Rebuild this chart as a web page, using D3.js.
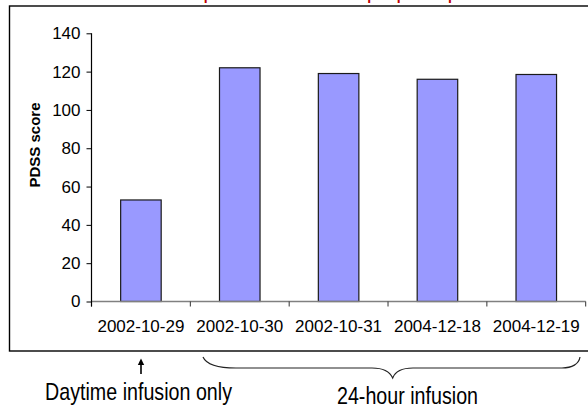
<!DOCTYPE html>
<html>
<head>
<meta charset="utf-8">
<script src="https://cdn.jsdelivr.net/npm/d3@7"></script>
<style>
  html, body { margin: 0; padding: 0; background: #fff; }
  svg { display: block; }
</style>
</head>
<body>
<div id="chart"></div>
<script>
// PDSS score per assessment date
const dates = ["2002-10-29", "2002-10-30", "2002-10-31", "2004-12-18", "2004-12-19"];
const pdssScores = [53, 122, 119, 116, 118.5];
const yTickValues = [0, 20, 40, 60, 80, 100, 120, 140];
const chartTitle = "Sleep score before and after pump startup";
const yAxisTitle = "PDSS score";
const noteDaytime = "Daytime infusion only";
const noteAllDay = "24-hour infusion";

const W = 588, H = 410;
const svg = d3.select("#chart").append("svg")
  .attr("width", W).attr("height", H);

// chart frame
svg.append("rect")
  .attr("x", 9.5).attr("y", 6).attr("width", 620).attr("height", 345)
  .attr("fill", "#fff").attr("stroke", "#000").attr("stroke-width", 1.4);

// title, sitting at the very top edge of the page
svg.append("text")
  .attr("x", 175).attr("y", 0)
  .attr("font-family", "Arial, 'Liberation Sans', sans-serif")
  .attr("font-weight", "bold").attr("font-size", 14)
  .attr("fill", "#C00000")
  .text(chartTitle);

const x = d3.scaleBand().domain(dates).range([91.5, 585.7]).padding(0);
const y = d3.scaleLinear().domain([0, 140]).range([301.5, 33.3]);
const barW = x.bandwidth() * 0.41;

// bars
svg.append("g").selectAll("rect")
  .data(dates.map((d, i) => ({ date: d, v: pdssScores[i] })))
  .join("rect")
  .attr("x", d => x(d.date) + (x.bandwidth() - barW) / 2)
  .attr("y", d => y(d.v))
  .attr("width", barW)
  .attr("height", d => y(0) - y(d.v))
  .attr("fill", "#9999FF")
  .attr("stroke", "#1a1a1a")
  .attr("stroke-width", 1.2);

// x axis: gray baseline with ticks at category boundaries
const xAxisG = svg.append("g");
xAxisG.append("line")
  .attr("x1", x.range()[0]).attr("x2", x.range()[1])
  .attr("y1", y(0)).attr("y2", y(0))
  .attr("stroke", "#808080").attr("stroke-width", 1.5);
const boundaries = dates.map(d => x(d)).concat([x(dates[dates.length - 1]) + x.bandwidth()]);
xAxisG.selectAll("line.tick").data(boundaries).join("line")
  .attr("class", "tick")
  .attr("x1", d => d).attr("x2", d => d)
  .attr("y1", y(0)).attr("y2", y(0) + 5)
  .attr("stroke", "#333").attr("stroke-width", 1);
xAxisG.selectAll("text").data(dates).join("text")
  .attr("x", d => x(d) + x.bandwidth() / 2)
  .attr("y", 332)
  .attr("text-anchor", "middle")
  .attr("font-family", "Arial, 'Liberation Sans', sans-serif")
  .attr("font-size", 17)
  .attr("fill", "#000")
  .text(d => d);

// y axis
const yAxis = d3.axisLeft(y).tickValues(yTickValues).tickSize(5).tickSizeOuter(0).tickPadding(6);
const yAxisG = svg.append("g").attr("transform", `translate(${x.range()[0]},0)`).call(yAxis);
yAxisG.select(".domain").attr("stroke", "#000").attr("stroke-width", 1.2)
  .attr("d", `M0,${y(140)}V${y(0) + 5}`);
yAxisG.selectAll(".tick line").attr("stroke", "#000");
yAxisG.selectAll(".tick text")
  .attr("font-family", "Arial, 'Liberation Sans', sans-serif")
  .attr("font-size", 17).attr("fill", "#000");

// y axis title
svg.append("text")
  .attr("transform", "translate(40,145) rotate(-90)")
  .attr("text-anchor", "middle")
  .attr("font-family", "Arial, 'Liberation Sans', sans-serif")
  .attr("font-weight", "bold").attr("font-size", 15)
  .attr("fill", "#000")
  .text(yAxisTitle);

// arrow pointing up at the first date
svg.append("line")
  .attr("x1", 141).attr("x2", 141).attr("y1", 374).attr("y2", 364)
  .attr("stroke", "#000").attr("stroke-width", 1.6);
svg.append("path")
  .attr("d", "M141,358.5 L137.8,365 L144.2,365 Z")
  .attr("fill", "#000");

// brace spanning the 24-hour infusion dates
svg.append("path")
  .attr("d", "M203,357 C207,366 220,368 236,368 L372,368 C385,368 390,372 392.7,378 " +
             "C395,372 400,368 413,368 L562,368 C572,368 579,364 580,357")
  .attr("fill", "none").attr("stroke", "#222").attr("stroke-width", 1.2);

// condensed note labels (Arial squeezed horizontally)
function addNote(text, cx, baseline) {
  svg.append("text")
    .attr("transform", `translate(${cx},${baseline}) scale(0.82,1)`)
    .attr("text-anchor", "middle")
    .attr("font-family", "Arial, 'Liberation Sans', sans-serif")
    .attr("font-size", 24)
    .attr("fill", "#000")
    .text(text);
}
addNote(noteDaytime, 138.5, 400);
addNote(noteAllDay, 407.5, 404);
</script>
</body>
</html>
